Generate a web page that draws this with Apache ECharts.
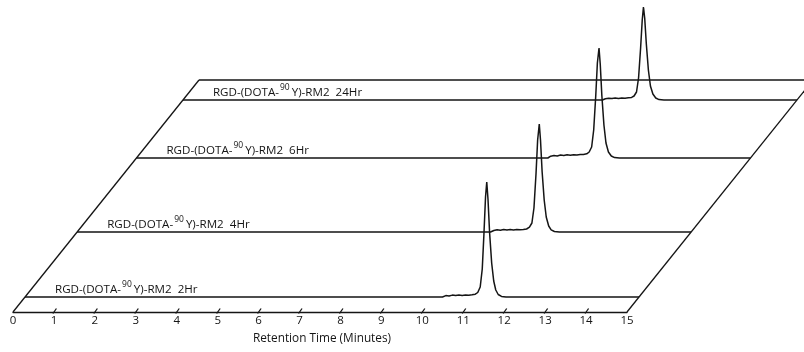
<!DOCTYPE html>
<html lang="en">
<head>
    <meta charset="UTF-8">
    <title>Radio-HPLC stability</title>
    <script src="https://cdn.jsdelivr.net/npm/echarts@6/dist/echarts.min.js"></script>
</head>
<body style="margin:0">
    <div id="ec" style="width:804px;height:352px"></div>
</body>
<script>
    // retention time axis
    var xMin = 0, xMax = 15
    var tickValues = [1,2,3,4,5,6,7,8,9,10,11,12,13,14]

    // trace names, from front to back
    var traceNames = ['2Hr', '4Hr', '6Hr', '24Hr']

    // [minutes, detector signal]
    var trace2h = [[0,0],[10.2,0],[10.28,1.4],[10.36,1.0],[10.44,1.9],[10.52,1.5],[10.6,2.1],[10.68,1.6],[10.76,2.0],[10.84,1.7],[10.92,2.2],[11.0,2.8],[11.06,4.5],[11.12,10],[11.17,28],[11.21,62],[11.25,100],[11.28,115],[11.31,98],[11.35,64],[11.4,34],[11.45,16],[11.5,7],[11.56,2.5],[11.64,0.6],[11.75,0],[15,0]]
    var trace4h = [[0,0],[10.1,0],[10.18,1.5],[10.26,2.2],[10.34,1.8],[10.42,2.5],[10.5,2.0],[10.58,2.4],[10.66,2.1],[10.74,2.6],[10.82,2.2],[10.9,2.5],[10.98,3.0],[11.05,4.8],[11.11,9],[11.16,24],[11.21,58],[11.25,92],[11.29,108],[11.32,92],[11.36,60],[11.41,32],[11.46,15],[11.52,6],[11.58,2.2],[11.66,0.5],[11.78,0],[15,0]]
    var trace6h = [[0,0],[10.05,0],[10.12,1.8],[10.2,2.4],[10.28,2.1],[10.36,2.9],[10.44,2.6],[10.52,3.2],[10.6,2.8],[10.68,3.3],[10.76,3.0],[10.84,3.5],[10.92,3.6],[11.0,4.2],[11.06,6],[11.12,11],[11.17,28],[11.22,62],[11.26,95],[11.3,110],[11.33,94],[11.37,62],[11.42,33],[11.47,15],[11.53,6],[11.6,2],[11.68,0.4],[11.8,0],[15,0]]
    var trace24h = [[0,0],[10.25,0],[10.32,1.3],[10.4,1.8],[10.48,1.4],[10.56,2.0],[10.64,1.6],[10.72,2.1],[10.8,1.8],[10.88,2.2],[10.96,2.6],[11.02,4],[11.08,8],[11.13,22],[11.18,52],[11.22,80],[11.25,93],[11.28,82],[11.32,56],[11.37,30],[11.42,14],[11.48,6],[11.55,2],[11.63,0.4],[11.75,0],[15,0]]
    var traces = [trace2h, trace4h, trace6h, trace24h]

    // layout of the oblique stack
    var axisLeft = 13, axisWidth = 614, axisY = 312
    var depthX = 186, depthY = 232            // back edge of the floor
    var traceDepth = [15, 80, 154, 212]       // how far back each baseline sits
    var traceH = 95
    var ink = '#151515'
    var font = 'Open Sans'

    var grids = [{left: axisLeft, width: axisWidth, top: axisY - 20, height: 20}]
    var xAxes = [{
        gridIndex: 0, type: 'value', min: xMin, max: xMax, interval: 1,
        axisLine: {lineStyle: {color: ink, width: 1.4}},
        axisTick: {show: false},
        splitLine: {show: false},
        axisLabel: {color: ink, fontSize: 11.5, fontFamily: font, margin: 3},
        name: 'Retention Time (Minutes)', nameLocation: 'middle', nameGap: 21,
        nameTextStyle: {color: ink, fontSize: 11.8, fontFamily: font, padding: [0, 0, 0, 4]}
    }]
    var yAxes = [{gridIndex: 0, type: 'value', min: 0, max: 1, show: false}]
    var series = []
    var graphics = []

    traces.forEach(function(tr, i) {
        var dx = traceDepth[i] * depthX / depthY
        var base = axisY - traceDepth[i]
        var left = axisLeft + dx
        grids.push({left: left, width: axisWidth, top: base - traceH, height: traceH})
        xAxes.push({gridIndex: i + 1, type: 'value', min: xMin, max: xMax, show: false})
        yAxes.push({gridIndex: i + 1, type: 'value', min: 0, max: traceH, show: false})
        series.push({
            type: 'line', xAxisIndex: i + 1, yAxisIndex: i + 1,
            data: tr, showSymbol: false, clip: false, z: 3,
            lineStyle: {color: ink, width: 1.5}
        })
        graphics.push({
            type: 'text', left: left + 30, top: base - 17, z: 10,
            style: {
                text: '{a|RGD-(DOTA-}{s|90}{a|Y)-RM2  ' + traceNames[i] + '}',
                rich: {
                    a: {fontSize: 11.6, fontFamily: font, fill: ink, color: ink, lineHeight: 16, verticalAlign: 'bottom'},
                    s: {fontSize: 8.5, fontFamily: font, fill: ink, color: ink, lineHeight: 16, verticalAlign: 'top', padding: [0, 2, 0, 1]}
                }
            }
        })
    })

    // floor outline, drawn from the axis scale
    series.push({
        type: 'custom', xAxisIndex: 0, yAxisIndex: 0, data: [[xMin, 0]], z: 2,
        renderItem: function(params, api) {
            var p0 = api.coord([xMin, 0]), p1 = api.coord([xMax, 0])
            var st = {stroke: ink, lineWidth: 1.3}
            return {type: 'group', children: [
                {type: 'line', shape: {x1: p0[0], y1: p0[1], x2: p0[0] + depthX, y2: p0[1] - depthY}, style: st},
                {type: 'line', shape: {x1: p1[0], y1: p1[1], x2: p1[0] + depthX, y2: p1[1] - depthY}, style: st},
                {type: 'line', shape: {x1: p0[0] + depthX, y1: p0[1] - depthY, x2: p1[0] + depthX, y2: p1[1] - depthY}, style: st}
            ]}
        }
    })

    // slanted tick marks
    series.push({
        type: 'custom', xAxisIndex: 0, yAxisIndex: 0, z: 2,
        data: tickValues.map(function(v) { return [v, 0] }),
        renderItem: function(params, api) {
            var p = api.coord([api.value(0), 0])
            return {type: 'line', shape: {x1: p[0] - 1, y1: p[1] + 1.5, x2: p[0] + 2.5, y2: p[1] - 3.5},
                    style: {stroke: ink, lineWidth: 1.3}}
        }
    })

    var mychart = echarts.init(document.getElementById('ec'))
    mychart.setOption({
        animation: false,
        backgroundColor: '#fff',
        grid: grids,
        xAxis: xAxes,
        yAxis: yAxes,
        series: series,
        graphic: graphics
    })
</script>
</html>
